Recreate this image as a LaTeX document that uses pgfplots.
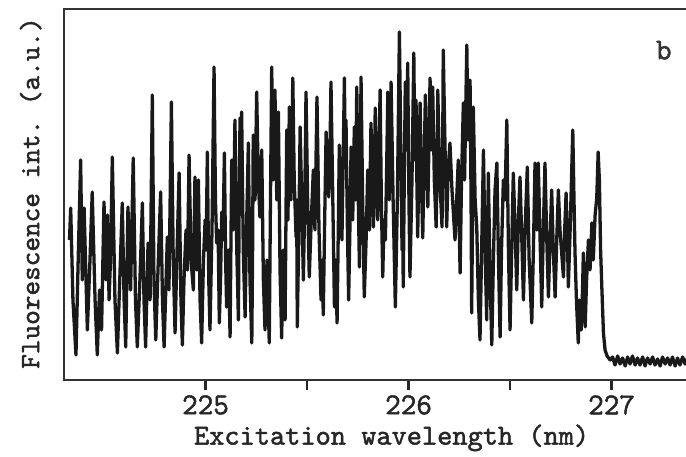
\documentclass[border=0pt]{standalone}
\usepackage{fontspec}
\setmonofont{Latin Modern Mono}[FakeBold=1.6]
\renewcommand{\familydefault}{\ttdefault}
\usepackage{pgfplots}
\usepackage{pgfplotstable}
\pgfplotsset{compat=1.18}

% Excitation spectrum: wavelength (nm) vs. fluorescence intensity (a.u.)
\pgfplotstableread{
nm      I
224.330 140
224.336 172
224.347 80
224.362 25
224.374 130
224.385 220
224.393 100
224.402 172
224.418 50
224.431 120
224.442 188
224.456 80
224.467 25
224.478 90
224.488 50
224.500 178
224.510 100
224.517 165
224.525 80
224.532 120
224.541 223
224.554 80
224.566 27
224.576 90
224.590 177
224.599 80
224.607 33
224.618 173
224.631 90
224.644 222
224.655 80
224.664 33
224.677 100
224.689 177
224.697 80
224.705 33
224.717 137
224.727 80
224.738 285
224.746 100
224.755 40
224.766 110
224.779 188
224.788 80
224.796 33
224.812 143
224.820 90
224.832 278
224.841 120
224.850 47
224.860 130
224.870 207
224.879 80
224.886 35
224.894 100
224.904 150
224.911 110
224.919 225
224.929 120
224.940 90
224.948 203
224.957 110
224.965 200
224.973 80
224.981 37
224.990 120
224.998 160
225.003 130
225.009 228
225.016 100
225.022 50
225.032 150
225.042 313
225.049 180
225.055 137
225.062 150
225.068 57
225.074 100
225.080 168
225.086 140
225.093 227
225.099 120
225.104 73
225.112 130
225.121 43
225.129 220
225.137 150
225.145 260
225.154 130
225.162 60
225.166 180
225.170 262
225.174 210
225.178 268
225.186 130
225.195 63
225.203 160
225.211 237
225.219 100
225.228 37
225.232 130
225.235 245
225.244 180
225.252 288
225.260 200
225.268 163
225.272 190
225.277 230
225.285 100
225.293 50
225.303 120
225.314 37
225.320 180
225.326 313
225.334 200
225.342 290
225.351 180
225.359 268
225.367 110
225.375 42
225.383 130
225.392 60
225.400 250
225.406 160
225.413 273
225.421 180
225.430 302
225.437 200
225.446 143
225.449 180
225.452 53
225.459 140
225.466 253
225.474 180
225.482 100
225.489 180
225.495 288
225.503 180
225.511 103
225.521 160
225.531 210
225.539 150
225.549 283
225.559 150
225.569 80
225.575 120
225.580 65
225.587 160
225.594 248
225.600 210
225.607 183
225.613 230
225.618 298
225.627 180
225.635 73
225.641 120
225.648 57
225.654 150
225.659 235
225.666 180
225.672 140
225.678 220
225.684 302
225.688 230
225.692 260
225.699 150
225.705 80
225.712 160
225.717 233
225.725 160
225.733 253
225.739 180
225.745 293
225.751 200
225.758 113
225.762 200
225.766 303
225.774 180
225.782 83
225.791 140
225.799 210
225.807 150
225.815 257
225.821 200
225.827 153
225.832 210
225.836 272
225.842 210
225.848 160
225.854 220
225.860 290
225.866 180
225.873 103
225.879 160
225.886 140
225.892 210
225.898 288
225.905 180
225.914 298
225.924 180
225.935 73
225.945 180
225.955 348
225.962 230
225.968 130
225.971 160
225.974 93
225.979 200
225.984 298
225.990 230
225.996 317
226.002 180
226.007 103
226.017 200
226.026 327
226.031 220
226.037 280
226.041 200
226.045 143
226.051 210
226.057 277
226.063 200
226.070 142
226.076 210
226.083 285
226.089 220
226.095 173
226.100 230
226.106 302
226.112 230
226.119 293
226.127 200
226.136 153
226.140 200
226.144 290
226.154 200
226.165 153
226.169 260
226.171 330
226.180 230
226.188 153
226.195 210
226.204 237
226.214 190
226.229 140
226.237 180
226.245 220
226.250 150
226.254 107
226.261 200
226.270 277
226.276 200
226.287 335
226.293 240
226.303 300
226.308 180
226.311 67
226.315 160
226.319 273
226.328 180
226.336 153
226.344 80
226.352 40
226.360 130
226.369 230
226.377 130
226.385 60
226.389 130
226.393 207
226.402 100
226.410 35
226.418 120
226.426 190
226.435 217
226.443 120
226.451 43
226.458 130
226.467 200
226.475 180
226.484 260
226.492 130
226.500 50
226.508 130
226.516 207
226.525 150
226.533 90
226.541 160
226.549 203
226.558 140
226.566 80
226.574 150
226.585 213
226.594 120
226.607 57
226.615 130
226.623 217
226.632 150
226.639 217
226.648 140
226.656 73
226.664 150
226.672 217
226.681 140
226.689 83
226.697 140
226.705 190
226.713 130
226.722 83
226.730 140
226.738 190
226.746 150
226.763 103
226.769 150
226.776 187
226.783 140
226.787 93
226.796 150
226.809 250
226.815 180
226.820 127
226.827 80
226.836 37
226.842 80
226.850 50
226.857 90
226.861 127
226.867 90
226.870 53
226.877 100
226.886 140
226.894 110
226.903 157
226.910 120
226.919 165
226.927 182
226.934 228
226.940 200
226.946 130
226.952 93
226.960 47
226.968 30
226.978 24
226.993 20
227.005 23
227.017 15
227.030 24
227.042 16
227.054 22
227.067 14
227.079 23
227.091 16
227.103 24
227.116 15
227.128 22
227.140 15
227.153 23
227.165 14
227.177 22
227.190 16
227.202 23
227.214 15
227.227 21
227.239 14
227.251 23
227.264 16
227.276 22
227.288 15
227.300 23
227.313 14
227.325 22
227.337 15
227.350 23
227.362 16
227.374 22
227.386 15
227.399 22
227.411 16
}\spectrum

\begin{document}
\begin{tikzpicture}
\begin{axis}[
  at={(24.32pt,29.26pt)}, anchor=south west,
  scale only axis,
  width=239.4pt, height=140.98pt,
  xmin=224.303, xmax=227.406,
  ymin=0, ymax=371,
  axis line style={line width=1pt, black!80},
  xtick={225,225.5,226,226.5,227},
  xticklabels={\mbox{\ttfamily 225},,\mbox{\ttfamily 226},,\mbox{\ttfamily 227}},
  ytick=\empty,
  xtick pos=bottom,
  tick align=outside,
  major tick length=3.8pt,
  every tick/.style={line width=1pt, black!85},
  /pgf/number format/assume math mode=true,
  tick label style={font=\ttfamily\fontsize{11.5}{13}\selectfont, text=black!85, yshift=1.5pt},
  xlabel={Excitation wavelength (nm)},
  ylabel={Fluorescence int. (a.u.)},
  every axis x label/.style={at={(axis description cs:0.52,-0.156)}, anchor=center,
    font=\ttfamily\fontsize{11}{13}\selectfont, text=black!85},
  every axis y label/.style={at={(axis description cs:-0.053,0.504)}, anchor=center,
    rotate=90, font=\ttfamily\fontsize{10.6}{13}\selectfont, text=black!85},
  clip=true,
]
\addplot[black!90, line width=1.25pt, line join=round, mark=none] table[x=nm, y=I] {\spectrum};
\node[font=\ttfamily\fontsize{11.5}{13}\selectfont, text=black!80] at (rel axis cs:0.952,0.889) {b};
\end{axis}
\pgfresetboundingbox
\useasboundingbox (0,0) rectangle (260.68pt,173.66pt);
\end{tikzpicture}
\end{document}
